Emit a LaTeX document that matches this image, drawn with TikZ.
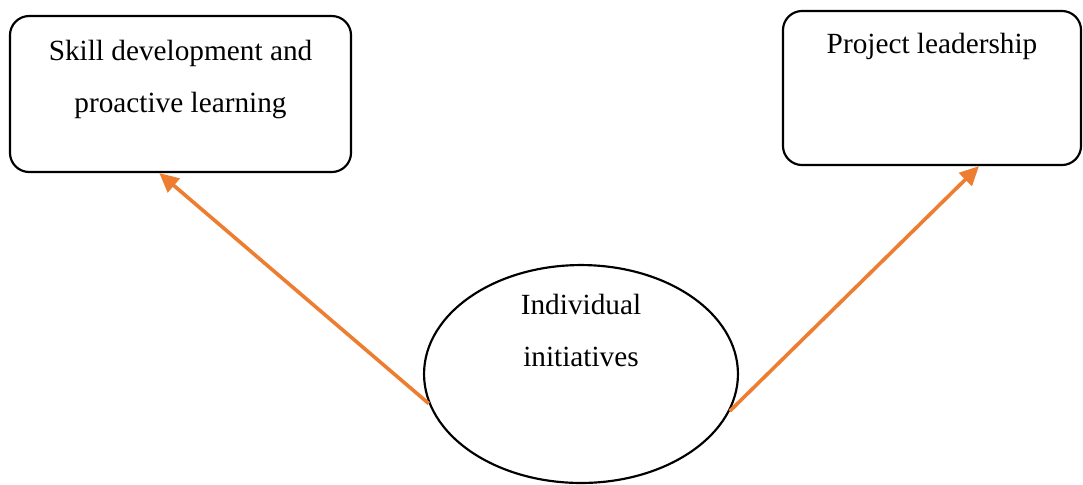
\documentclass[tikz,border=0pt]{standalone}
\usepackage{fontspec}
\setmainfont{Liberation Serif}
\usetikzlibrary{shapes.geometric,arrows.meta}
\definecolor{accentorange}{HTML}{ED7D31}
\begin{document}
\begin{tikzpicture}[x=0.41667pt, y=-0.41667pt,
  font=\fontsize{12.2}{21.5}\selectfont,
  box/.style={draw, line width=0.9pt, rounded corners=8pt, inner sep=0pt},
  txt/.style={anchor=north, inner sep=0pt, align=center},
  link/.style={accentorange, line width=1.5pt, -{Triangle[length=8pt,width=7.5pt]}}]
\useasboundingbox (0,0) rectangle (1083,484);
\node[box, minimum width=142.1pt, minimum height=65pt] (skill) at (180.5,94) {};
\node[txt] (skilltxt) at ([yshift=-10.5pt]skill.north) {Skill development and\\proactive learning};
\node[box, minimum width=124.2pt, minimum height=64.2pt] (lead) at (932,88) {};
\node[txt] (leadtxt) at ([yshift=-9.6pt]lead.north) {Project leadership};
\node[draw, ellipse, line width=0.9pt, inner sep=0pt, minimum width=130.8pt, minimum height=90.8pt] (indiv) at (581,374) {};
\node[txt] (indivtxt) at ([yshift=-12.5pt]indiv.north) {Individual\\initiatives};
\draw[link] (indiv.191) -- (skill.255.3);
\draw[link] (indiv.346) -- (lead.301.6);
\end{tikzpicture}
\end{document}
